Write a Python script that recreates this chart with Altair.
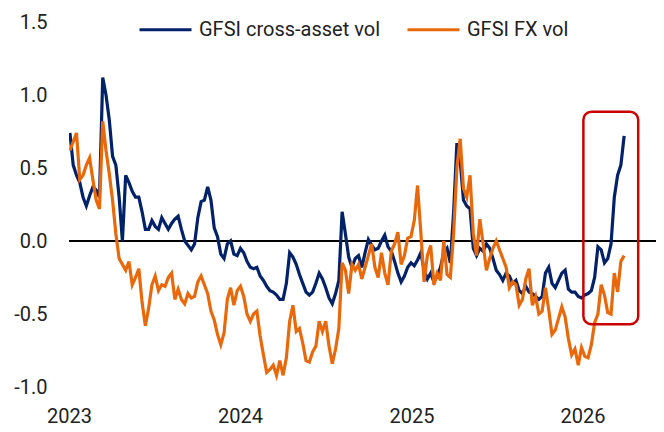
import altair as alt
import pandas as pd

# weekly observations starting 2023-01-03
start_date = "2023-01-03"

cross_asset_vol = [
    0.74, 0.52, 0.45, 0.40, 0.30, 0.24, 0.31, 0.37, 0.35, 0.30,
    1.12, 1.00, 0.83, 0.58, 0.52, 0.30, 0.00, 0.45, 0.40, 0.34,
    0.30, 0.30, 0.20, 0.08, 0.08, 0.14, 0.10, 0.08, 0.16, 0.12,
    0.08, 0.12, 0.15, 0.17, 0.08, 0.00, -0.03, -0.06, -0.02, 0.16,
    0.27, 0.28, 0.37, 0.28, 0.09, 0.03, -0.09, -0.12, -0.02, 0.00,
    -0.09, -0.10, -0.05, -0.08, -0.14, -0.18, -0.19, -0.18, -0.24, -0.27,
    -0.31, -0.34, -0.35, -0.37, -0.40, -0.40, -0.29, -0.08, -0.11, -0.16,
    -0.23, -0.29, -0.35, -0.37, -0.35, -0.29, -0.22, -0.26, -0.32, -0.39,
    -0.43, -0.36, -0.27, 0.20, 0.05, -0.11, -0.18, -0.12, -0.10, -0.18,
    -0.08, 0.01, -0.03, -0.06, -0.05, 0.00, 0.04, -0.04, -0.07, -0.14,
    -0.22, -0.28, -0.24, -0.18, -0.15, -0.17, -0.13, -0.08, -0.20, -0.26,
    -0.22, -0.28, -0.24, -0.18, -0.08, -0.05, -0.15, 0.20, 0.67, 0.55,
    0.28, 0.24, 0.22, -0.05, -0.10, -0.05, -0.07, -0.02, -0.05, -0.12,
    -0.20, -0.23, -0.27, -0.22, -0.24, -0.29, -0.27, -0.34, -0.36, -0.31,
    -0.35, -0.36, -0.38, -0.40, -0.38, -0.22, -0.18, -0.29, -0.32, -0.27,
    -0.22, -0.20, -0.33, -0.35, -0.35, -0.38, -0.39, -0.37, -0.36, -0.34,
    -0.25, -0.04, -0.06, -0.15, -0.12, -0.02, 0.30, 0.45, 0.52, 0.72,
]

fx_vol = [
    0.62, 0.68, 0.74, 0.42, 0.45, 0.52, 0.57, 0.42, 0.28, 0.22,
    0.82, 0.62, 0.46, 0.28, 0.05, -0.12, -0.16, -0.20, -0.14, -0.30,
    -0.25, -0.19, -0.42, -0.58, -0.46, -0.30, -0.24, -0.34, -0.30, -0.31,
    -0.25, -0.22, -0.40, -0.33, -0.40, -0.43, -0.36, -0.39, -0.38, -0.28,
    -0.24, -0.30, -0.36, -0.48, -0.54, -0.64, -0.71, -0.63, -0.40, -0.32,
    -0.44, -0.34, -0.31, -0.38, -0.50, -0.55, -0.50, -0.48, -0.65, -0.78,
    -0.90, -0.88, -0.85, -0.92, -0.82, -0.92, -0.80, -0.55, -0.44, -0.62,
    -0.60, -0.70, -0.82, -0.83, -0.76, -0.72, -0.55, -0.62, -0.55, -0.72,
    -0.84, -0.74, -0.60, -0.15, -0.20, -0.36, -0.16, -0.20, -0.16, -0.26,
    -0.18, -0.10, -0.02, -0.18, -0.25, -0.08, -0.22, -0.30, -0.07, -0.02,
    0.06, -0.16, -0.10, 0.02, 0.03, 0.14, 0.38, 0.06, -0.28, -0.10,
    -0.03, -0.30, -0.22, -0.27, 0.00, -0.23, -0.25, 0.05, 0.50, 0.70,
    0.36, 0.30, 0.45, 0.05, -0.10, 0.15, -0.02, -0.20, -0.12, -0.05,
    0.00, -0.06, -0.12, -0.18, -0.32, -0.28, -0.30, -0.44, -0.40, -0.26,
    -0.19, -0.44, -0.38, -0.50, -0.48, -0.32, -0.47, -0.64, -0.61, -0.53,
    -0.45, -0.52, -0.67, -0.78, -0.74, -0.85, -0.73, -0.79, -0.80, -0.71,
    -0.56, -0.50, -0.30, -0.37, -0.49, -0.50, -0.22, -0.35, -0.14, -0.10,
]

series_names = ["GFSI cross-asset vol", "GFSI FX vol"]
series_colors = ["#012169", "#E8690C"]

y_ticks = [-1.0, -0.5, 0.0, 0.5, 1.0, 1.5]
year_ticks = [2023, 2024, 2025, 2026]

# highlighted period (red box)
box_start = ["2026-01-03"]
box_end = ["2026-04-30"]
box_low = [-0.57]
box_high = [0.885]

dates = pd.date_range(start_date, periods=len(cross_asset_vol), freq="7D")
df = pd.concat([
    pd.DataFrame({"date": dates, "value": cross_asset_vol, "series": series_names[0]}),
    pd.DataFrame({"date": dates, "value": fx_vol, "series": series_names[1]}),
])
df["date"] = df["date"].dt.strftime("%Y-%m-%d")

box_df = pd.DataFrame({"d0": box_start, "d1": box_end, "v0": box_low, "v1": box_high})

FONT = "Roboto, Liberation Sans, Arial, sans-serif"
TEXT = "#222222"
FS = 20

x_scale = alt.Scale(domain=[alt.DateTime(year=2023, month=1, date=1),
                            alt.DateTime(year=2026, month=6, date=7)])
y_scale = alt.Scale(domain=[-1.0, 1.5], nice=False, zero=False)

x_axis = alt.Axis(
    values=[alt.DateTime(year=y, month=1, date=1) for y in year_ticks],
    format="%Y", title=None, grid=False, ticks=False, domain=False,
    labelFontSize=FS, labelFont=FONT, labelColor=TEXT, labelPadding=19,
    labelOverlap=False, labelFlush=False,
)
y_axis = alt.Axis(
    values=y_ticks, title=None, grid=False, ticks=False, domain=False,
    labelFontSize=FS, labelFont=FONT, labelColor=TEXT, labelPadding=22,
    labelExpr="datum.value < 0 ? '-' + format(-datum.value, '.1f') : format(datum.value, '.1f')",
)

zero = alt.Chart(df).mark_rule(color="black", strokeWidth=2).encode(y=alt.datum(0, scale=y_scale))

lines = alt.Chart(df).mark_line(strokeWidth=3.2, clip=True).encode(
    x=alt.X("date:T", scale=x_scale, axis=x_axis),
    y=alt.Y("value:Q", scale=y_scale, axis=y_axis),
    color=alt.Color(
        "series:N",
        scale=alt.Scale(domain=series_names, range=series_colors),
        sort=series_names,
        legend=alt.Legend(
            title=None, orient="none", legendX=69, legendY=-20, direction="horizontal",
            symbolType="stroke", symbolStrokeWidth=3, symbolSize=2704,
            labelFontSize=FS, labelFont=FONT, labelColor=TEXT, labelLimit=0,
            labelOffset=6, columnPadding=20, padding=0,
        ),
    ),
    order=alt.Order("series:N"),
)

box = alt.Chart(box_df).mark_rect(
    fillOpacity=0, stroke="#CC0000", strokeWidth=2.5, cornerRadius=8
).encode(
    x=alt.X("d0:T", scale=x_scale), x2="d1:T",
    y=alt.Y("v0:Q", scale=y_scale), y2="v1:Q",
)

chart = alt.layer(zero, lines, box).properties(
    width=587, height=365,
    autosize=alt.AutoSizeParams(type="none"),
    padding={"left": 61, "top": 14, "right": 0, "bottom": 45},
).configure_view(stroke=None)

chart.save("out.html", embed_options={"renderer": "svg", "actions": False})
